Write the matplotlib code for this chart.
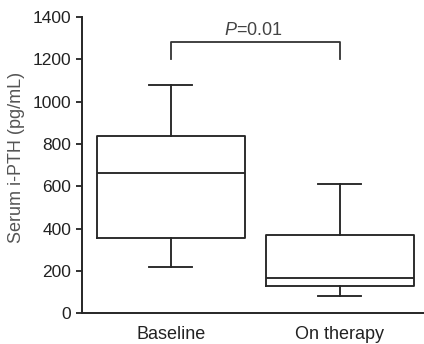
import matplotlib
matplotlib.use("Agg")
import matplotlib.pyplot as plt

plt.rcParams['font.family'] = ['Liberation Sans', 'DejaVu Sans']
plt.rcParams['mathtext.fontset'] = 'custom'
plt.rcParams['mathtext.rm'] = 'Liberation Sans'
plt.rcParams['mathtext.it'] = 'Liberation Sans:italic'

groups = ["Baseline", "On therapy"]
whisker_low = [217, 83]
q1 = [357, 129]
median = [661, 165]
q3 = [837, 368]
whisker_high = [1078, 609]
p_label = "$P$=0.01"
bracket_y = 1283
bracket_drop = 1200

stats = []
for i, g in enumerate(groups):
    stats.append({
        "label": g,
        "whislo": whisker_low[i],
        "q1": q1[i],
        "med": median[i],
        "q3": q3[i],
        "whishi": whisker_high[i],
    })

fig = plt.figure(figsize=(4.24, 3.44), dpi=100)
ax = fig.add_axes([0.193, 0.089, 0.807, 0.862])

line = dict(color="#262626", linewidth=1.35)
ax.bxp(stats, positions=[1, 2], widths=0.876, showfliers=False,
       boxprops=line, medianprops=line, whiskerprops=line,
       capprops=line, capwidths=0.255)

# significance bracket
ax.plot([1, 1, 2, 2], [bracket_drop, bracket_y, bracket_y, bracket_drop],
        color="#333333", linewidth=1.3, clip_on=False)
ax.text(1.49, bracket_y + 32, p_label, ha="center", va="baseline",
        fontsize=13, color="#444444")

ax.set_xlim(0.473, 2.5)
ax.set_ylim(0, 1400)
ax.set_yticks(range(0, 1401, 200))
ax.set_ylabel("Serum i-PTH (pg/mL)", fontsize=13, color="#555555")
ax.yaxis.set_label_coords(-0.166, 0.527)

for s in ["top", "right"]:
    ax.spines[s].set_visible(False)
for s in ["left", "bottom"]:
    ax.spines[s].set_linewidth(1.4)
    ax.spines[s].set_color("#262626")

ax.tick_params(axis="y", length=4.5, width=1.3, labelsize=12.5, pad=3,
               colors="#222222")
ax.tick_params(axis="x", length=0, labelsize=13, pad=9, colors="#222222")

fig.savefig("out.png", dpi=100)
